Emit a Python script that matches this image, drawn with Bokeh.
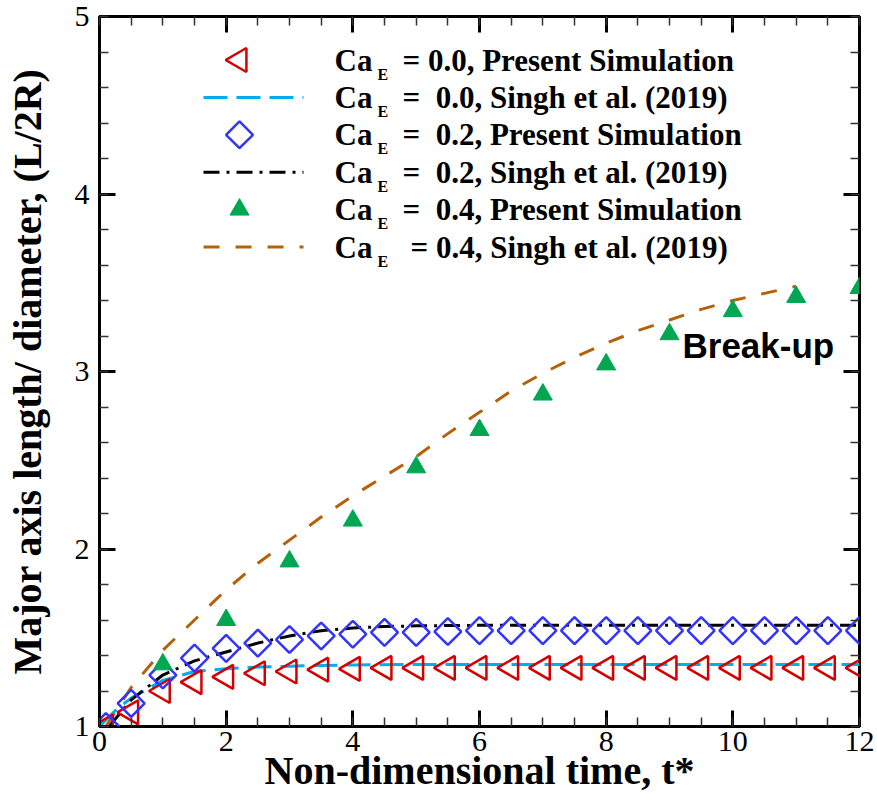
import numpy as np
from bokeh.plotting import figure
from bokeh.models import Range1d, LinearAxis, FixedTicker, Label
from bokeh.core.properties import value
from bokeh.embed import file_html
from bokeh.resources import INLINE

# ---------------- data ----------------
t_sim = [0.1, 0.5, 1.0, 1.5, 2.0, 2.5, 3.0, 3.5, 4.0, 4.5, 5.0, 5.5, 6.0,
         6.5, 7.0, 7.5, 8.0, 8.5, 9.0, 9.5, 10.0, 10.5, 11.0, 11.5, 12.0]
ca00_sim = [1.00, 1.08, 1.20, 1.25, 1.28, 1.30, 1.31, 1.32, 1.325, 1.33, 1.33, 1.33, 1.33,
            1.33, 1.33, 1.33, 1.33, 1.33, 1.33, 1.33, 1.33, 1.33, 1.33, 1.33, 1.33]
ca02_sim = [1.00, 1.13, 1.29, 1.385, 1.44, 1.47, 1.49, 1.51, 1.52, 1.53, 1.53, 1.535, 1.54,
            1.54, 1.54, 1.54, 1.54, 1.54, 1.54, 1.54, 1.54, 1.54, 1.54, 1.54, 1.54]
t_sim04 = [1.0, 2.0, 3.0, 4.0, 5.0, 6.0, 7.0, 8.0, 9.0, 10.0, 11.0, 12.0]
ca04_sim = [1.35, 1.60, 1.93, 2.16, 2.46, 2.67, 2.87, 3.04, 3.21, 3.34, 3.42, 3.47]

t_ref00 = [0.0, 0.25, 0.5, 1.0, 1.5, 2.0, 2.5, 3.0, 3.5, 4.0, 5.0, 6.0, 7.0, 8.0, 9.0, 10.0, 11.0, 12.0]
ca00_ref = [1.00, 1.09, 1.16, 1.26, 1.31, 1.325, 1.335, 1.34, 1.344, 1.347, 1.35, 1.35, 1.35,
            1.35, 1.35, 1.35, 1.35, 1.35]
t_ref02 = [0.15, 0.5, 1.0, 1.5, 2.0, 2.5, 3.0, 3.5, 4.0, 4.5, 5.0, 6.0, 7.0, 8.0, 9.0, 10.0, 11.0, 12.0]
ca02_ref = [1.00, 1.15, 1.29, 1.37, 1.42, 1.47, 1.51, 1.54, 1.555, 1.563, 1.567, 1.57, 1.57,
            1.57, 1.57, 1.57, 1.57, 1.57]
t_ref04 = [0.1, 0.5, 1.0, 1.5, 2.0, 2.5, 3.0, 3.5, 4.0, 4.5, 5.0, 5.5, 6.0, 6.5, 7.0, 7.5,
           8.0, 8.5, 9.0, 9.5, 10.0, 10.5, 11.0]
ca04_ref = [1.00, 1.22, 1.43, 1.60, 1.77, 1.92, 2.05, 2.18, 2.30, 2.41, 2.52, 2.65, 2.77, 2.89,
            2.99, 3.08, 3.16, 3.23, 3.29, 3.35, 3.40, 3.44, 3.48]

x_ticks = [0, 2, 4, 6, 8, 10, 12]
y_ticks = [1, 2, 3, 4, 5]

legend_rest = ["= 0.0, Present Simulation",
               "=\u00a0 0.0, Singh et al. (2019)",
               "=\u00a0 0.2, Present Simulation",
               "=\u00a0 0.2, Singh et al. (2019)",
               "=\u00a0 0.4, Present Simulation",
               "= 0.4, Singh et al. (2019)"]

# ---------------- styling ----------------
RED = "#d40000"
LBLUE = "#00aeef"
BLUE = "#3333ff"
BLACK = "#000000"
GREEN = "#00a651"
ORANGE = "#b5600a"
SERIF = "Liberation Serif"

W, H = 877, 803
L, R, T, B = 99, 18, 16, 77
X0, X1, Y0, Y1 = 0.0, 12.0, 1.0, 5.0
FW, FH = W - L - R, H - T - B


def px_x(px):
    return X0 + (px - L) / FW * (X1 - X0)


def px_y(py):
    return Y1 - (py - T) / FH * (Y1 - Y0)


p = figure(width=W, height=H, x_range=Range1d(X0, X1), y_range=Range1d(Y0, Y1),
           output_backend="svg", toolbar_location=None,
           min_border_left=L, min_border_right=R, min_border_top=T, min_border_bottom=B,
           x_axis_label="Non-dimensional time, t*",
           y_axis_label="Major axis length/ diameter, (L/2R)")
p.background_fill_color = "white"
p.border_fill_color = "white"
p.outline_line_color = "black"
p.outline_line_width = 3
p.xgrid.visible = False
p.ygrid.visible = False

xt = FixedTicker(ticks=x_ticks, minor_ticks=list(np.arange(0, 12.01, 0.5)))
yt = FixedTicker(ticks=y_ticks, minor_ticks=list(np.round(np.arange(1, 5.01, 0.2), 2)))

xa = p.below[0]
ya = p.left[0]
top_ax = LinearAxis(ticker=xt)
right_ax = LinearAxis(ticker=yt)
p.add_layout(top_ax, "above")
p.add_layout(right_ax, "right")

for ax, tk in ((xa, xt), (ya, yt), (top_ax, xt), (right_ax, yt)):
    ax.ticker = tk
    ax.axis_line_color = None
    ax.major_tick_in = 16
    ax.major_tick_out = 0
    ax.major_tick_line_width = 3
    ax.major_tick_line_color = "black"
    ax.minor_tick_in = 9
    ax.minor_tick_out = 0
    ax.minor_tick_line_width = 1.5
    ax.minor_tick_line_color = "#333333"
    ax.major_label_text_font = SERIF
    ax.major_label_text_font_size = "30px"
    ax.major_label_text_color = "black"

top_ax.major_label_overrides = {v: "" for v in x_ticks}
right_ax.major_label_overrides = {v: "" for v in y_ticks}
for ax in (top_ax, right_ax):
    ax.major_label_standoff = 0
    ax.major_label_text_font_size = "1px"

xa.major_label_standoff = 5
xa.axis_label_standoff = -6
ya.major_label_standoff = 10
ya.axis_label_standoff = 22
for ax in (xa, ya):
    ax.axis_label_text_font = SERIF
    ax.axis_label_text_font_style = "bold"
    ax.axis_label_text_font_size = "40px"
    ax.axis_label_text_color = "black"

# ---------------- series ----------------
p.line(t_ref00, ca00_ref, line_color=LBLUE, line_width=3, line_dash="24 9")
p.line(t_ref02, ca02_ref, line_color=BLACK, line_width=3, line_dash="16 7 3 7")
p.line(t_ref04, ca04_ref, line_color=ORANGE, line_width=3, line_dash="16 16")
p.scatter(t_sim, ca00_sim, marker="triangle", angle=np.pi / 2, size=24,
          line_color=RED, line_width=2.5, fill_color=None)
p.scatter(t_sim, ca02_sim, marker="square", angle=np.pi / 4, size=19,
          line_color=BLUE, line_width=2.5, fill_color=None)
p.scatter(t_sim04, ca04_sim, marker="triangle", size=19,
          line_color=GREEN, fill_color=GREEN, line_width=1)

# ---------------- legend (drawn by hand for the subscript) ----------------
row_c = [59.5 + 37.4 * i for i in range(6)]
lx0, lx1, mx = px_x(203), px_x(303), px_x(239)
p.scatter([mx], [px_y(row_c[0])], marker="triangle", angle=np.pi / 2, size=24,
          line_color=RED, line_width=2.5, fill_color=None)
p.line([lx0, lx1], [px_y(row_c[1])] * 2, line_color=LBLUE, line_width=3, line_dash="24 9")
p.scatter([mx], [px_y(row_c[2])], marker="square", angle=np.pi / 4, size=19,
          line_color=BLUE, line_width=2.5, fill_color=None)
p.line([lx0, lx1], [px_y(row_c[3])] * 2, line_color=BLACK, line_width=3, line_dash="16 7 3 7")
p.scatter([mx], [px_y(row_c[4])], marker="triangle", size=19,
          line_color=GREEN, fill_color=GREEN, line_width=1)
p.line([lx0, lx1], [px_y(row_c[5])] * 2, line_color=ORANGE, line_width=3, line_dash="16 16")

p.text(x=[px_x(334)] * 6, y=[px_y(c) for c in row_c], text=["Ca"] * 6,
       text_font=value(SERIF), text_font_style="bold", text_font_size="31px",
       text_baseline="middle", text_align="left", text_color="black")
p.text(x=[px_x(377)] * 6, y=[px_y(c + 14) for c in row_c], text=["E"] * 6,
       text_font=value(SERIF), text_font_style="bold", text_font_size="16px",
       text_baseline="middle", text_align="left", text_color="black")
rest_x = [402, 402, 402, 402, 402, 410]
p.text(x=[px_x(v) for v in rest_x], y=[px_y(c) for c in row_c], text=legend_rest,
       text_font=value(SERIF), text_font_style="bold", text_font_size="31px",
       text_baseline="middle", text_align="left", text_color="black")

p.add_layout(Label(x=px_x(682), y=px_y(345), text="Break-up",
                   text_font="Liberation Sans", text_font_style="bold",
                   text_font_size="35px", text_baseline="middle", text_color="black"))

open("out.html", "w").write(file_html(p, INLINE))
